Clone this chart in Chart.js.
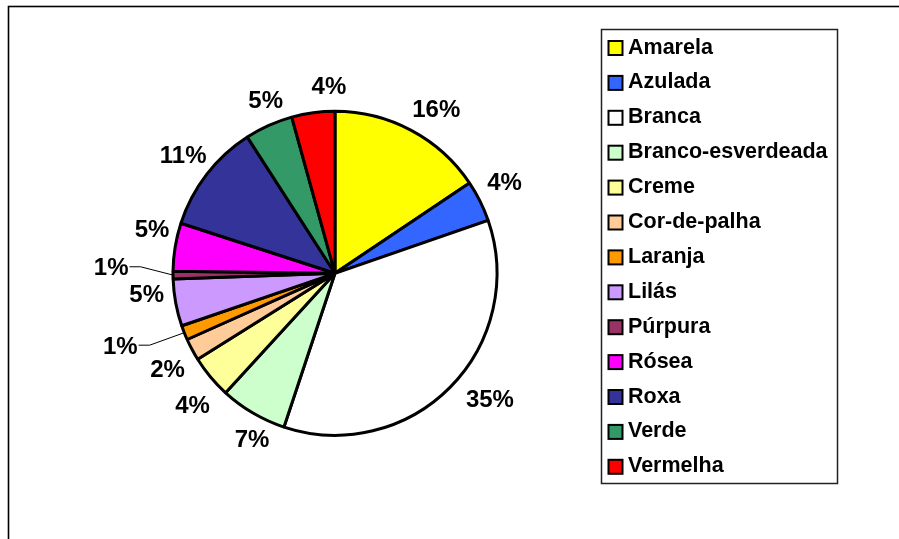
<!DOCTYPE html>
<html><head><meta charset="utf-8">
<script src="https://cdn.jsdelivr.net/npm/chart.js@4/dist/chart.umd.min.js"></script>
<style>html,body{margin:0;padding:0;background:#fff;overflow:hidden}</style>
</head><body>
<canvas id="c" width="899" height="539" style="display:block;width:899px;height:539px"></canvas>
<script>
// ---- data ----
const categories = ['Amarela','Azulada','Branca','Branco-esverdeada','Creme','Cor-de-palha','Laranja','Lilás','Púrpura','Rósea','Roxa','Verde','Vermelha'];
const shares = [15.6, 4.1, 35.4, 6.7, 4.3, 2.2, 1.45, 4.7, 0.75, 4.8, 10.9, 4.8, 4.3];
const sliceColors = ['#FFFF00','#3366FF','#FFFFFF','#CCFFCC','#FFFF99','#FFCC99','#FF9900','#CC99FF','#993366','#FF00FF','#333399','#339966','#FF0000'];

// ---- label placement tweaks (angle offset in degrees, distance beyond the rim in px, leader line) ----
const labelPlacement = [
  {da: 3.4, dr: 31.8}, {da: -1.9, dr: 30.7}, {da: -5.8, dr: 36.9}, {da: -3.8, dr: 23.2},
  {da: -2.9, dr: 31.8}, {da: -1.5, dr: 30.6}, {da: 3.0, dr: 64.4, leader: true}, {da: 4.3, dr: 27.4},
  {da: 2.3, dr: 61.9, leader: true}, {da: 4.5, dr: 26.5}, {da: 0.5, dr: 31}, {da: 2.4, dr: 25.3}, {da: 5.9, dr: 26.1}
];

const FONT = '"Liberation Sans", Arial, sans-serif';

const decor = {
  id: 'decor',
  beforeDraw(chart) {
    const ctx = chart.ctx;
    ctx.save();
    ctx.fillStyle = '#fff';
    ctx.fillRect(0, 0, chart.width, chart.height);
    // outer frame
    ctx.strokeStyle = '#000';
    ctx.lineWidth = 1.6;
    ctx.strokeRect(8.5, 6.5, chart.width + 20, chart.height + 20);
    ctx.restore();
  },
  afterDraw(chart) {
    const ctx = chart.ctx;
    const ds = chart.data.datasets[0];
    const meta = chart.getDatasetMeta(0);
    const total = ds.data.reduce((a, b) => a + b, 0);
    ctx.save();
    // data labels
    ctx.font = 'bold 24px ' + FONT;
    ctx.fillStyle = '#000';
    ctx.textAlign = 'center';
    ctx.textBaseline = 'alphabetic';
    meta.data.forEach((arc, i) => {
      const p = arc.getProps(['x', 'y', 'startAngle', 'endAngle', 'outerRadius'], true);
      const mid = (p.startAngle + p.endAngle) / 2;
      const pl = labelPlacement[i] || {da: 0, dr: 28};
      const a = mid + pl.da * Math.PI / 180;
      const R = p.outerRadius + pl.dr;
      const cx = p.x + Math.cos(a) * R;
      const cy = p.y + Math.sin(a) * R;
      const txt = Math.round(ds.data[i] / total * 100) + '%';
      ctx.fillText(txt, cx, cy + 8.5);
      if (pl.leader) {
        const w = ctx.measureText(txt).width;
        const sx = cx + w / 2 + 1;
        const ex = p.x + Math.cos(mid) * p.outerRadius;
        const ey = p.y + Math.sin(mid) * p.outerRadius;
        ctx.beginPath();
        ctx.strokeStyle = '#000';
        ctx.lineWidth = 1;
        ctx.moveTo(sx, cy);
        ctx.lineTo(sx + 11, cy);
        ctx.lineTo(ex, ey);
        ctx.stroke();
      }
    });
    // legend
    const lx = 601, ly = 29, lw = 236, lh = 454;
    ctx.strokeStyle = '#222';
    ctx.lineWidth = 1.5;
    ctx.strokeRect(lx + 0.5, ly + 0.5, lw, lh);
    ctx.font = 'bold 21.5px ' + FONT;
    ctx.textAlign = 'left';
    chart.data.labels.forEach((lab, i) => {
      const base = 53.5 + i * 34.9;
      ctx.fillStyle = ds.backgroundColor[i];
      ctx.fillRect(608.5, base - 12.5, 14, 14);
      ctx.strokeStyle = '#000';
      ctx.lineWidth = 2;
      ctx.strokeRect(608.5, base - 12.5, 14, 14);
      ctx.fillStyle = '#000';
      ctx.fillText(lab, 628, base);
    });
    ctx.restore();
  }
};

new Chart(document.getElementById('c'), {
  type: 'pie',
  data: {
    labels: categories,
    datasets: [{
      data: shares,
      backgroundColor: sliceColors,
      borderColor: '#000',
      borderWidth: 3
    }]
  },
  options: {
    responsive: false,
    devicePixelRatio: 1,
    animation: false,
    radius: 162,
    layout: { padding: { left: 20, right: 249, top: 60, bottom: 52.4 } },
    plugins: { legend: { display: false }, tooltip: { enabled: false } }
  },
  plugins: [decor]
});
</script>
</body></html>
